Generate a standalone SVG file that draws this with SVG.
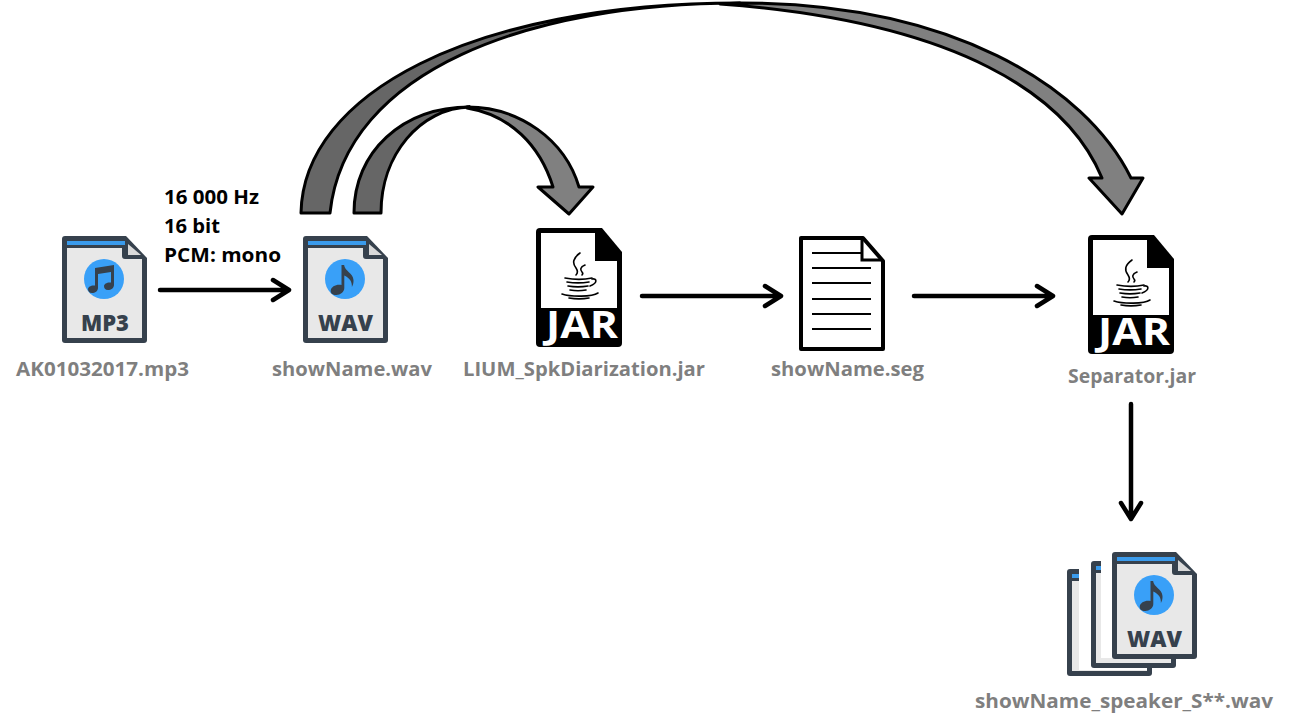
<svg xmlns="http://www.w3.org/2000/svg" width="1289" height="721" viewBox="0 0 1289 721">
<style>
.lbl{font-family:"Open Sans","Liberation Sans",sans-serif;font-weight:700;font-size:19.5px;fill:#7f7f7f}
.cap{font-family:"Open Sans","Liberation Sans",sans-serif;font-weight:700;font-size:19.5px;fill:#000}
.ico{font-family:"Open Sans","Liberation Sans",sans-serif;font-weight:800;font-size:22px;fill:#36414d}
.jar{font-family:"Open Sans","Liberation Sans",sans-serif;font-weight:700;font-size:38px;fill:#fff}
.ln{fill:none;stroke:#000;stroke-width:4.5;stroke-linecap:round;stroke-linejoin:round}
.blk{stroke:#000;stroke-width:3;stroke-linejoin:round}
.dk{fill:#666}.md{fill:#808080}
</style>
<defs>
<g id="doc">
<path fill="#36414d" d="M3,0H64L85,22V104q0,3-3,3H3q-3,0-3-3V3q0-3,3-3Z"/>
<rect x="5" y="5" width="58" height="4" fill="#3a9bec"/>
<path fill="#e8e8e8" d="M5,12H60V20q0,3,3,3H80V102H5Z"/>
<path fill="#d9d9d9" d="M66,8L79,19H66Z"/>
<circle cx="42" cy="43" r="20" fill="#39a0f8"/>
</g>
<g id="note">
<path fill="#36414d" d="M38.500,29h2.600c.6,6,9,8,9.400,15c.2,3-.6,5-1.600,7c.3-5-2-9-7.600-11.500V52c0,4-4,7-8,7s-6-2-5.500-5c.6-3,5-6,10.700-5Z"/>
</g>
<g id="jarIcon">
<path fill="#000" d="M4,0H66L86,24V115q0,4-4,4H4q-4,0-4-4V4q0-4,4-4Z"/>
<path fill="#fff" d="M5,5H59V33H81V80H5Z"/>
<g fill="none" stroke="#000" stroke-width="1.600" stroke-linecap="round">
<path d="M44,25c-7,5-8,10-4,15c2,3,2,5,0,7"/>
<path d="M49,37c-5,2-5,5-3,7c1,1,1,2,0,3"/>
<path d="M29,50c8,1.500,20,1.500,27,0"/>
<path d="M31,54c6,1,16,1,22,0"/>
<path d="M32,58c6,1,14,1,20,0"/>
<path d="M34,62c5,1,11,1,16,0"/>
<path d="M56,51c5-1,6,4-2,7"/>
<path d="M26,66c9,3,30,3,36-1"/>
<path d="M33,70c6,1,14,1,20,0"/>
</g>
</g>
</defs>
<rect width="1289" height="721" fill="#fff"/>
<g id="connectors">
<path class="ln" d="M160,290H289M273,280L289,290L273,300"/>
<path class="ln" d="M642,296H781M765,286L781,296L765,306"/>
<path class="ln" d="M914,296H1053M1037,286L1053,296L1037,306"/>
<path class="ln" d="M1131,404V519M1121,503L1131,519L1141,503"/>
<g id="arrow-big">
<path class="blk md" d="M740,3C950,3 1085,85 1131,178H1143L1122,214L1089,178H1102C1068,96 960,22 720,4Z"/>
<path class="blk dk" d="M301,213C303,95 470,3 740,3C530,3 345,70 330,213Z"/>
</g>
<g id="arrow-small">
<path class="blk md" d="M467,107C520,107 565,140 579,187H593L569,214L538,187H553C540,145 510,115 467,108Z"/>
<path class="blk dk" d="M354,213C354,152 402,107 470,107C420,108 381,155 381,213Z"/>
</g>
</g>
<g id="node-settings">
<text class="cap" x="164" y="204" textLength="95" lengthAdjust="spacingAndGlyphs">16 000 Hz</text>
<text class="cap" x="164" y="233" textLength="56" lengthAdjust="spacingAndGlyphs">16 bit</text>
<text class="cap" x="164" y="262" textLength="117" lengthAdjust="spacingAndGlyphs">PCM: mono</text>
</g>
<g id="node-mp3">
<use href="#doc" x="62" y="236"/>
<path fill="#36414d" transform="translate(62 236)" d="M33,32L52,29V49c0,3-3,5-6,5s-4-2-4-4s3-4,7-3.500V36L36,38V52c0,3-3,5-6,5s-4-2-4-4s3-4,7-3.500Z"/>
<text class="ico" x="81" y="331" textLength="48" lengthAdjust="spacingAndGlyphs">MP3</text>
<text class="lbl" x="16" y="376" textLength="173" lengthAdjust="spacingAndGlyphs">AK01032017.mp3</text>
</g>
<g id="node-wav">
<use href="#doc" x="303" y="236"/>
<use href="#note" x="303" y="236"/>
<text class="ico" x="318" y="331" textLength="55" lengthAdjust="spacingAndGlyphs">WAV</text>
<text class="lbl" x="272" y="376" textLength="160" lengthAdjust="spacingAndGlyphs">showName.wav</text>
</g>
<g id="node-lium">
<use href="#jarIcon" x="536" y="228"/>
<text class="jar" x="546" y="338" textLength="72" lengthAdjust="spacingAndGlyphs">JAR</text>
<text class="lbl" x="463" y="376" textLength="242" lengthAdjust="spacingAndGlyphs">LIUM_SpkDiarization.jar</text>
</g>
<g id="node-seg">
<path fill="#fff" stroke="#000" stroke-width="4" stroke-linejoin="round" d="M801,238H863L883,261V349H801Z"/>
<path fill="none" stroke="#000" stroke-width="3" d="M862,239V260H882"/>
<path fill="none" stroke="#000" stroke-width="2" d="M812,253H861M812,268H871M812,283H871M812,299H871M812,314H871M812,329H871"/>
<text class="lbl" x="771" y="376" textLength="153" lengthAdjust="spacingAndGlyphs">showName.seg</text>
</g>
<g id="node-separator">
<use href="#jarIcon" x="1088" y="235"/>
<text class="jar" x="1098" y="345" textLength="72" lengthAdjust="spacingAndGlyphs">JAR</text>
<text class="lbl" x="1068" y="383" textLength="128" lengthAdjust="spacingAndGlyphs">Separator.jar</text>
</g>
<g id="node-speakers">
<use href="#doc" x="1067" y="569"/>
<rect x="1079" y="565" width="68" height="105" fill="#fff"/>
<use href="#doc" x="1091" y="561"/>
<rect x="1101" y="557" width="12" height="101" fill="#fff"/>
<rect x="1101" y="573" width="70" height="85" fill="#fff"/>
<use href="#doc" x="1112" y="552"/>
<use href="#note" x="1112" y="552"/>
<text class="ico" x="1127" y="647" textLength="55" lengthAdjust="spacingAndGlyphs">WAV</text>
<text class="lbl" x="975" y="708" textLength="298" lengthAdjust="spacingAndGlyphs">showName_speaker_S**.wav</text>
</g>
</svg>
